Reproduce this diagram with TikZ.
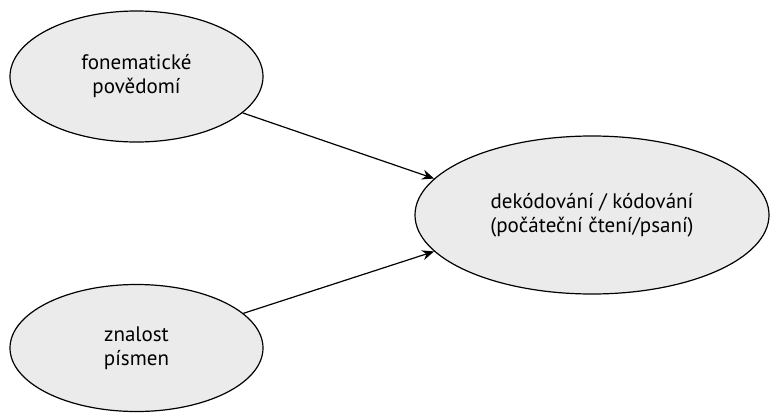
\documentclass[tikz,border=0pt]{standalone}
\usepackage{fontspec}
\setmainfont{PT Sans}
\usetikzlibrary{arrows.meta,shapes.geometric}
\begin{document}
\begin{tikzpicture}[x=1pt,y=-1pt,
  bubble/.style={draw=black, line width=1.2pt, fill=black!8, ellipse, inner sep=0pt,
    align=center, font=\fontsize{21}{24}\selectfont},
  link/.style={draw=black, line width=1.2pt, -{Stealth[length=12pt,width=10pt]}}]
\useasboundingbox (0,0) rectangle (770,412);
% the three concepts
\node[bubble, minimum width=253pt, minimum height=131pt] (fon) at (136.5,76.5) {fonematické\\povědomí};
\node[bubble, minimum width=253pt, minimum height=127pt] (zna) at (136.5,348) {znalost\\písmen};
\node[bubble, minimum width=354pt, minimum height=158pt] (dek) at (592,215) {dekódování / kódování\\(počáteční čtení/psaní)};
% both skills feed into decoding
\draw[link] (fon) -- (dek.167);
\draw[link] (zna) -- (dek.193);
\end{tikzpicture}
\end{document}
